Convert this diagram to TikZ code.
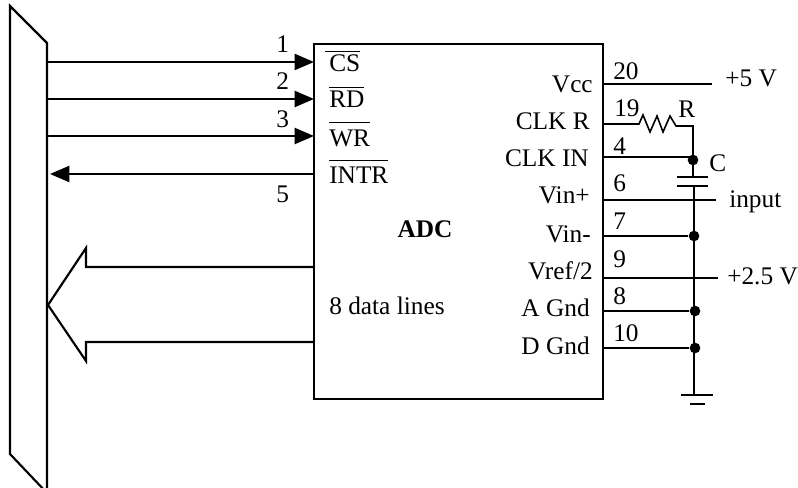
\documentclass[tikz,border=0pt]{standalone}
\usepackage{fontspec}
\setmainfont{Liberation Serif}
\usetikzlibrary{arrows.meta}
\newcommand{\barsig}[2]{$\overline{\mbox{\rule{0pt}{#1}#2}}$}
\tikzset{
  wire/.style={black,line width=1.6pt},
  sig/.style={wire,-{Triangle[length=14.5pt,width=12pt]}},
  txt/.style={inner sep=0pt,font=\fontsize{19}{22}\selectfont},
  lab/.style={txt,anchor=base west},
  pin/.style={txt,anchor=base east},
  dot/.style={circle,fill=black,inner sep=0pt,minimum size=8pt}
}
\begin{document}
\begin{tikzpicture}[x=0.75pt,y=-0.75pt]
\useasboundingbox (0,0) rectangle (798,488);

\coordinate (TL) at (314,44);
\coordinate (BR) at (603,399);
\draw[wire] (TL) rectangle (BR);

% bus on the left
\coordinate (BusA) at (10,6);
\coordinate (BusB) at (47,43);
\coordinate (BusC) at (47,493);
\coordinate (BusD) at (10,454);
\draw[wire] (BusD)--(BusA)--(BusB)--(BusC)--cycle;

% control lines
\coordinate (CSa) at (47,62);
\coordinate (CSb) at (314,62);
\coordinate (RDa) at (47,99);
\coordinate (RDb) at (314,99);
\coordinate (WRa) at (47,136);
\coordinate (WRb) at (314,136);
\coordinate (INa) at (314,174);
\coordinate (INb) at (50,174);
\draw[sig] (CSa)--(CSb);
\draw[sig] (RDa)--(RDb);
\draw[sig] (WRa)--(WRb);
\draw[sig] (INa)--(INb);

% data arrow
\coordinate (DA) at (314,267);
\coordinate (DB) at (86,267);
\coordinate (DC) at (86,248);
\coordinate (DD) at (48,305);
\coordinate (DE) at (86,361);
\coordinate (DF) at (86,342);
\coordinate (DG) at (314,342);
\draw[wire] (DA)--(DB)--(DC)--(DD)--(DE)--(DF)--(DG);

% right side pins
\coordinate (Vcc) at (603,84);
\coordinate (VccE) at (712,84);
\coordinate (ClkR) at (603,124);
\coordinate (ClkI) at (603,157);
\coordinate (Vip) at (603,200);
\coordinate (VipE) at (716,200);
\coordinate (Vim) at (603,236);
\coordinate (Vrf) at (603,278);
\coordinate (VrfE) at (718,278);
\coordinate (AG) at (603,311);
\coordinate (DGn) at (603,348);
\draw[wire] (Vcc)--(VccE);
\draw[wire] (Vip)--(VipE);
\draw[wire] (Vrf)--(VrfE);

% R and C
\coordinate (Jc) at (693,160);
\coordinate (CapA) at (693,177);
\coordinate (CapB) at (694,186);
\coordinate (Gnd) at (694,395);
\draw[wire,line width=1.2pt] (ClkR)--(639,124)--(643,115)--(650,132)--(657,116)--(663,132)--(670,116)--(676,126)--(693,126)--(Jc);
\draw[wire] (ClkI)--(693,157);
\draw[wire] (Jc)--(CapA);
\draw[wire] (677,177)--(708,177);
\draw[wire] (677,186)--(708,186);
\draw[wire] (CapB)--(Gnd);
\draw[wire] (681,395)--(713,395);
\draw[wire] (690,404)--(705,404);

\node[dot] (JcDot) at (Jc) {};
\node[dot] (VimDot) at (694,236) {};
\node[dot] (AGDot) at (695,311) {};
\node[dot] (DGDot) at (695,348) {};
\draw[wire] (Vim)--(VimDot);
\draw[wire] (AG)--(AGDot);
\draw[wire] (DGn)--(DGDot);

% labels inside the box
\node[lab] (lCS) at (325,72) {\barsig{14pt}{\kern3pt CS}};
\node[lab] (lRD) at (329,108) {\barsig{14pt}{RD}};
\node[lab] (lWR) at (329,147) {\barsig{17pt}{WR}};
\node[lab] (lIN) at (329,184) {\barsig{16.5pt}{INTR}};
\node[txt,anchor=base] (lADC) at (425,237) {\bfseries ADC};
\node[lab] (lData) at (329,314) {8 data lines};
\node[pin] (pVcc) at (593,93) {Vcc};
\node[pin] (pClkR) at (590,130) {CLK R};
\node[pin] (pClkI) at (589,167) {CLK IN};
\node[pin] (pVip) at (590,204) {Vin+};
\node[pin] (pVim) at (591,242) {Vin-};
\node[pin] (pVrf) at (593,279) {Vref/2};
\node[pin] (pAG) at (590,316) {A Gnd};
\node[pin] (pDG) at (590,354) {D Gnd};

% pin numbers
\node[lab] (n1) at (276,53) {1};
\node[lab] (n2) at (276,90) {2};
\node[lab] (n3) at (276,128) {3};
\node[lab] (n5) at (276,203) {5};
\node[lab] (n20) at (613,80) {20};
\node[lab] (n19) at (614,117) {19};
\node[lab] (n4) at (613,155) {4};
\node[lab] (n6) at (613,192) {6};
\node[lab] (n7) at (613,229) {7};
\node[lab] (n9) at (613,267) {9};
\node[lab] (n8) at (613,304) {8};
\node[lab] (n10) at (613,341) {10};

\node[lab] (lR) at (678,118) {R};
\node[lab] (lC) at (709,172) {C};
\node[lab] (l5V) at (725,87) {+5 V};
\node[lab] (lInp) at (729,208) {input};
\node[lab] (l25V) at (727,284) {+2.5 V};

\end{tikzpicture}
\end{document}
